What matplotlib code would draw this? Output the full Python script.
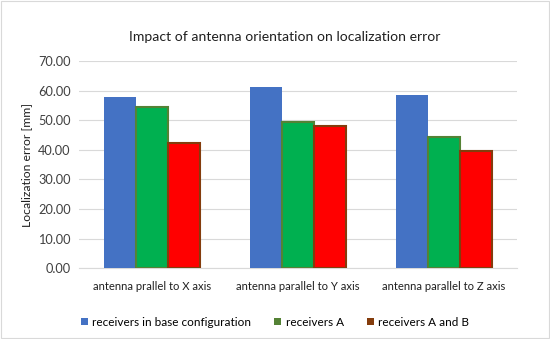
import numpy as np
import matplotlib
matplotlib.use("Agg")
import matplotlib.pyplot as plt
from matplotlib.patches import Patch, Rectangle

plt.rcParams['font.family'] = ['Lato', 'DejaVu Sans']

categories = ["antenna prallel to X axis", "antenna parallel to Y axis", "antenna parallel to Z axis"]
series_names = ["receivers in base configuration", "receivers A", "receivers A and B"]
base_vals = [57.9, 61.3, 58.5]
a_vals = [54.5, 49.4, 44.3]
ab_vals = [42.4, 48.0, 39.5]

face_colors = ['#4472C4', '#00B050', '#FF0000']
edge_colors = ['#4472C4', '#548235', '#843C0C']

fig = plt.figure(figsize=(5.5, 3.39), dpi=100)
ax = fig.add_axes([0.1436, 0.209, 0.7964, 0.611])

x = np.arange(len(categories))
w = 0.22
for i, vals in enumerate([base_vals, a_vals, ab_vals]):
    ax.bar(x + (i - 1) * w, vals, width=w, color=face_colors[i],
           edgecolor=edge_colors[i], linewidth=1.5 if i else 0, zorder=3)

ax.set_xlim(-0.5, 2.5)
ax.set_ylim(0, 70)
ax.set_yticks(np.arange(0, 71, 10))
ax.set_yticklabels(["%.2f" % v for v in np.arange(0, 71, 10)], fontsize=9.2, color='#404040')
ax.set_xticks(x)
ax.set_xticklabels(categories, fontsize=8.1, color='#202020')
ax.tick_params(axis='both', length=0)
ax.tick_params(axis='x', pad=9)
ax.tick_params(axis='y', pad=6)
ax.grid(axis='y', color='#D9D9D9', linewidth=0.8, zorder=0)
for s in ['top', 'right', 'left']:
    ax.spines[s].set_visible(False)
ax.spines['bottom'].set_color('#D9D9D9')
ax.set_ylabel("Localization error [mm]", fontsize=8.8, color='#202020', labelpad=4)

fig.text(0.518, 0.89, "Impact of antenna orientation on localization error",
         ha='center', va='center', fontsize=10.1, color='#202020')

handles = [Patch(facecolor=c, edgecolor='none') for c in ['#4472C4', '#548235', '#843C0C']]
fig.legend(handles, series_names, loc='center', bbox_to_anchor=(0.50, 0.05), ncol=3,
           frameon=False, fontsize=8.5, handlelength=0.6, handleheight=0.6,
           handletextpad=0.35, columnspacing=2.0)

fig.patches.append(Rectangle((0.002, 0.003), 0.996, 0.994, transform=fig.transFigure,
                             fill=False, edgecolor='#D9D9D9', linewidth=0.8))

fig.savefig("out.png", dpi=100)
